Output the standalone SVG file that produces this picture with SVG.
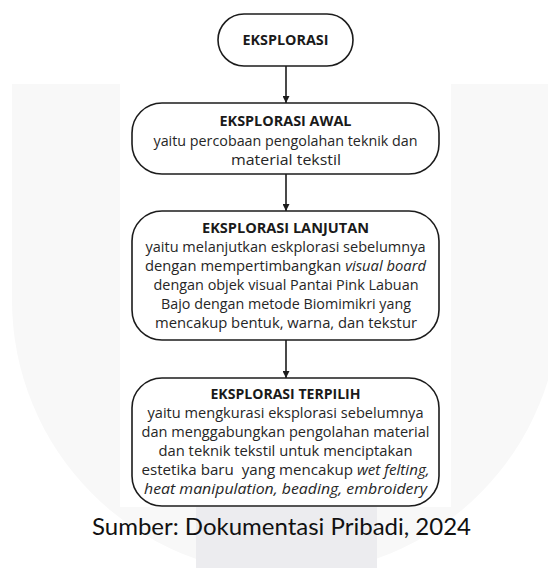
<svg xmlns="http://www.w3.org/2000/svg" width="548" height="568" viewBox="0 0 548 568">
  <defs>
    <style>
      .node { fill: #ffffff; stroke: #1c1c1c; stroke-width: 1.6; }
      .title { font-family: "Open Sans", "Noto Sans", sans-serif; font-weight: bold; font-size: 14px; fill: #1a1a1a; text-anchor: middle; }
      .body { font-family: "Open Sans", "Noto Sans", sans-serif; font-size: 15px; fill: #262626; text-anchor: middle; }
      .it { font-style: italic; }
      .conn { stroke: #1c1c1c; stroke-width: 1.6; fill: none; }
      .caption { font-family: "Lato", "Liberation Sans", sans-serif; font-size: 24px; fill: #111111; text-anchor: middle; }
    </style>
    <marker id="arrow" viewBox="0 0 10 10" refX="10" refY="5" markerWidth="7" markerHeight="7" markerUnits="userSpaceOnUse" orient="auto">
      <path d="M0,0 L10,5 L0,10 Z" fill="#1c1c1c"/>
    </marker>
  </defs>

  <!-- background watermark -->
  <rect x="0" y="0" width="548" height="568" fill="#ffffff"/>
  <path d="M12,84 H560 V300 A274,274 0 0 1 12,300 Z" fill="#f8f8f8"/>
  <rect x="196" y="507" width="181" height="61" fill="#ececef"/>
  <rect x="120" y="0" width="331" height="507" fill="#ffffff"/>

  <g id="connectors">
    <line class="conn" x1="286" y1="66" x2="286" y2="103" marker-end="url(#arrow)"/>
    <line class="conn" x1="286" y1="174" x2="286" y2="211" marker-end="url(#arrow)"/>
    <line class="conn" x1="286" y1="340" x2="286" y2="378" marker-end="url(#arrow)"/>
  </g>

  <g id="node-eksplorasi">
    <rect class="node" x="218" y="14" width="135" height="52" rx="26" ry="26"/>
    <text class="title" x="285.5" y="45" textLength="86" lengthAdjust="spacingAndGlyphs">EKSPLORASI</text>
  </g>

  <g id="node-awal">
    <rect class="node" x="132" y="103" width="307" height="71" rx="30" ry="30"/>
    <text class="title" x="285.5" y="126" textLength="132" lengthAdjust="spacingAndGlyphs">EKSPLORASI AWAL</text>
    <text class="body" x="285.5" y="146" textLength="264" lengthAdjust="spacingAndGlyphs">yaitu percobaan pengolahan teknik dan</text>
    <text class="body" x="286" y="165" textLength="110" lengthAdjust="spacingAndGlyphs">material tekstil</text>
  </g>

  <g id="node-lanjutan">
    <rect class="node" x="132" y="211" width="307" height="129" rx="30" ry="30"/>
    <text class="title" x="285.5" y="233" textLength="167" lengthAdjust="spacingAndGlyphs">EKSPLORASI LANJUTAN</text>
    <text class="body" x="285.5" y="252" textLength="280" lengthAdjust="spacingAndGlyphs">yaitu melanjutkan eskplorasi sebelumnya</text>
    <text class="body" x="285.5" y="271" textLength="281" lengthAdjust="spacingAndGlyphs">dengan mempertimbangkan <tspan class="it">visual board</tspan></text>
    <text class="body" x="286" y="290" textLength="265" lengthAdjust="spacingAndGlyphs">dengan objek visual Pantai Pink Labuan</text>
    <text class="body" x="286" y="309" textLength="250" lengthAdjust="spacingAndGlyphs">Bajo dengan metode Biomimikri yang</text>
    <text class="body" x="286" y="328" textLength="262" lengthAdjust="spacingAndGlyphs">mencakup bentuk, warna, dan tekstur</text>
  </g>

  <g id="node-terpilih">
    <rect class="node" x="132" y="378" width="307" height="128" rx="30" ry="30"/>
    <text class="title" x="285.5" y="399" textLength="150" lengthAdjust="spacingAndGlyphs">EKSPLORASI TERPILIH</text>
    <text class="body" x="285.5" y="418" textLength="276" lengthAdjust="spacingAndGlyphs">yaitu mengkurasi eksplorasi sebelumnya</text>
    <text class="body" x="285.5" y="437" textLength="288" lengthAdjust="spacingAndGlyphs">dan menggabungkan pengolahan material</text>
    <text class="body" x="285.5" y="456" textLength="254" lengthAdjust="spacingAndGlyphs">dan teknik tekstil untuk menciptakan</text>
    <text class="body" x="285.5" y="475" textLength="288" lengthAdjust="spacingAndGlyphs" style="white-space: pre">estetika baru  yang mencakup <tspan class="it">wet felting,</tspan></text>
    <text class="body it" x="285.5" y="494" textLength="283" lengthAdjust="spacingAndGlyphs">heat manipulation, beading, embroidery</text>
  </g>

  <text class="caption" x="281.5" y="535" textLength="379" lengthAdjust="spacingAndGlyphs">Sumber: Dokumentasi Pribadi, 2024</text>
</svg>
